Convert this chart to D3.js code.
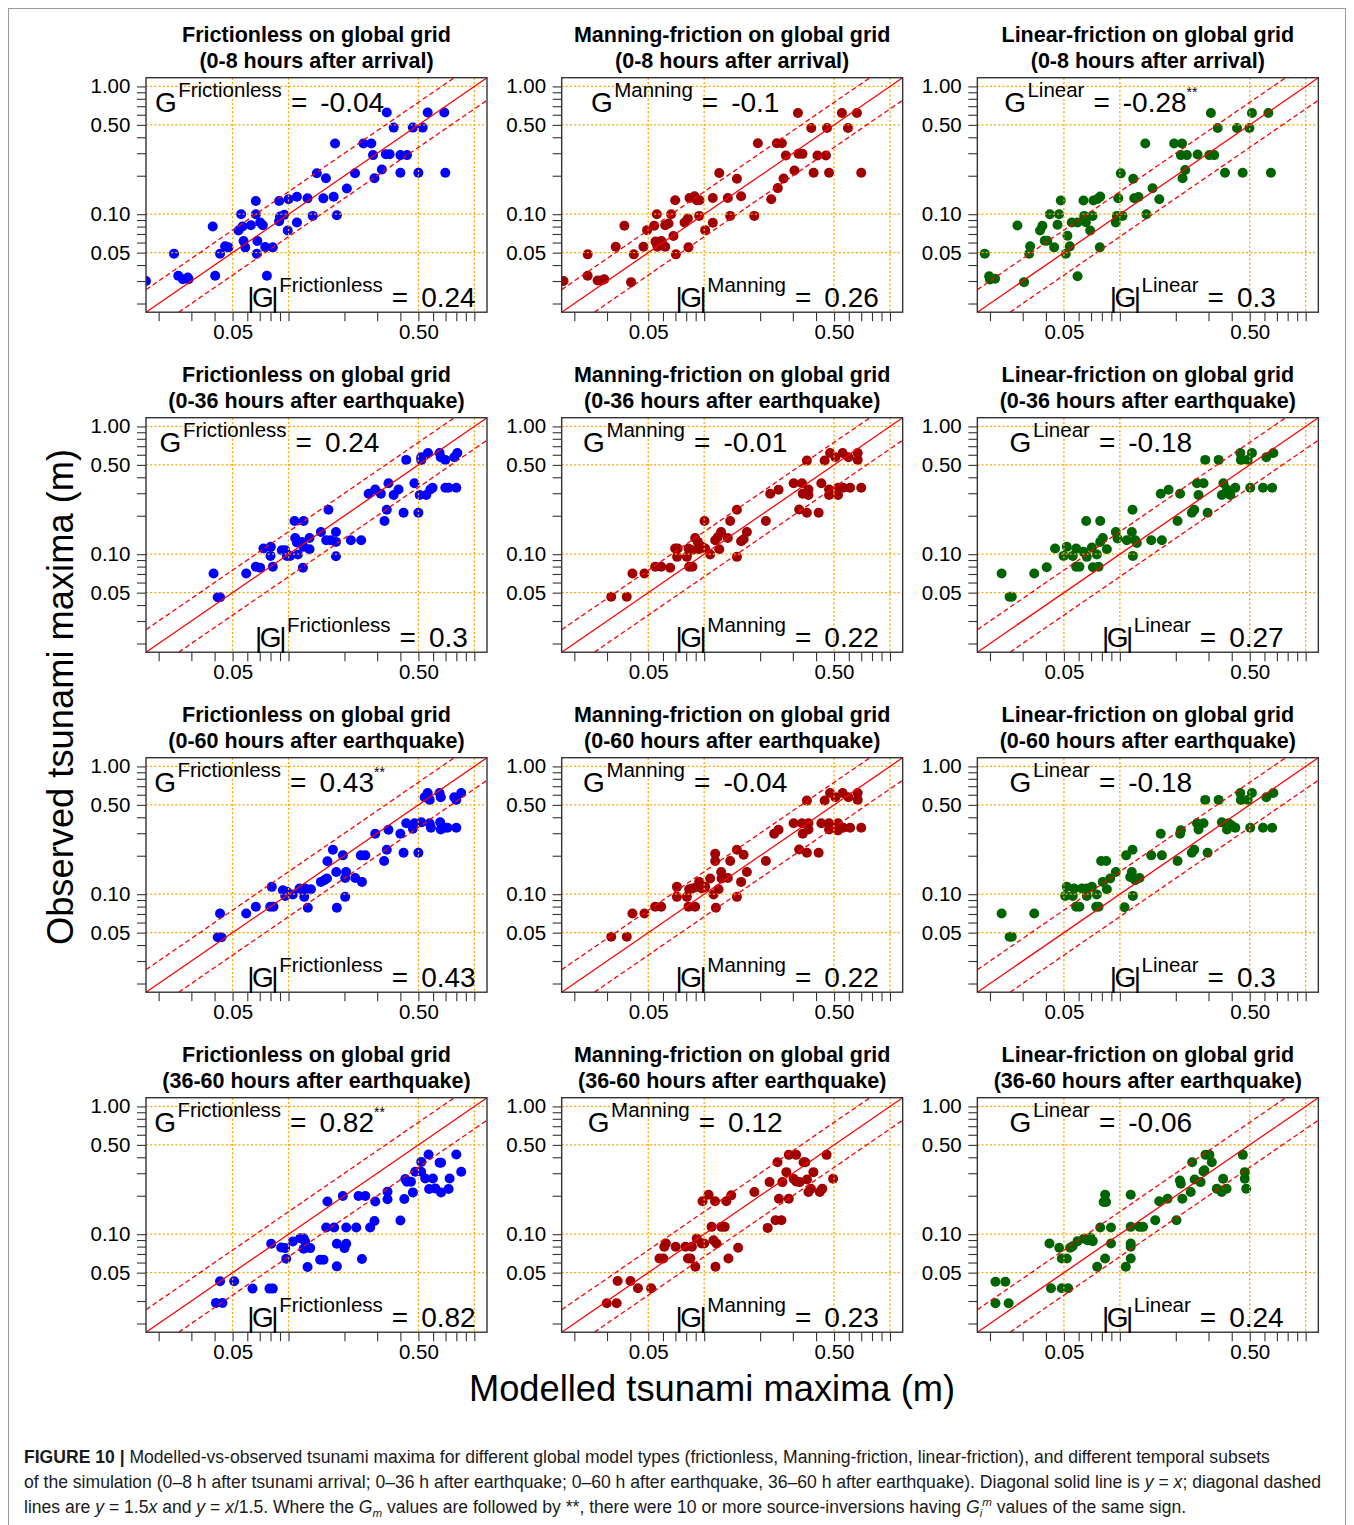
<!DOCTYPE html>
<html>
<head>
<meta charset="utf-8">
<script src="https://cdn.jsdelivr.net/npm/d3@7"></script>
<style>
body { margin: 0; background: #fff; }
svg { display: block; font-family: "Liberation Sans", Arial, Helvetica, sans-serif; }
.ann { white-space: pre; }
</style>
</head>
<body>
<script>
// modelled vs observed maxima (m): [modelled, observed]
var fricArrival = [[0.0171,0.030],[0.0242,0.049],[0.0255,0.033],[0.027,0.031],[0.0287,0.032],[0.029,0.031],[0.0391,0.080],[0.0403,0.033],[0.0428,0.049],[0.0456,0.056],[0.0475,0.055],[0.0538,0.0746],[0.0556,0.100],[0.0565,0.080],[0.0573,0.0616],[0.0585,0.055],[0.0627,0.082],[0.0667,0.127],[0.0667,0.100],[0.0675,0.049],[0.068,0.0616],[0.0704,0.086],[0.0727,0.082],[0.0749,0.0554],[0.0765,0.033],[0.0823,0.055],[0.089,0.127],[0.089,0.088],[0.090,0.096],[0.095,0.099],[0.099,0.0746],[0.100,0.131],[0.111,0.137],[0.111,0.086],[0.1266,0.133],[0.135,0.097],[0.142,0.209],[0.154,0.133],[0.159,0.191],[0.175,0.137],[0.178,0.357],[0.182,0.098],[0.206,0.159],[0.228,0.209],[0.253,0.357],[0.279,0.357],[0.285,0.290],[0.290,0.191],[0.318,0.224],[0.334,0.295],[0.338,0.624],[0.350,0.295],[0.368,0.476],[0.400,0.290],[0.400,0.211],[0.434,0.290],[0.467,0.476],[0.500,0.211],[0.527,0.476],[0.561,0.624],[0.689,0.624],[0.698,0.211]];
var manArrival = [[0.0175,0.030],[0.0236,0.0485],[0.0236,0.033],[0.0267,0.0303],[0.028,0.0303],[0.029,0.031],[0.0334,0.0557],[0.0372,0.0811],[0.0404,0.0294],[0.0418,0.0485],[0.0471,0.0557],[0.0493,0.075],[0.0538,0.0811],[0.0547,0.061],[0.0556,0.100],[0.056,0.0557],[0.0587,0.0616],[0.059,0.061],[0.0617,0.0557],[0.0617,0.082],[0.0643,0.0846],[0.0664,0.100],[0.0683,0.0674],[0.0698,0.1286],[0.0704,0.0485],[0.0784,0.086],[0.0817,0.0925],[0.0823,0.055],[0.0834,0.134],[0.0887,0.138],[0.0913,0.1286],[0.0944,0.1286],[0.094,0.097],[0.1012,0.075],[0.1113,0.134],[0.1113,0.0856],[0.1205,0.210],[0.134,0.134],[0.138,0.097],[0.150,0.1896],[0.158,0.138],[0.186,0.097],[0.1945,0.359],[0.2295,0.131],[0.246,0.359],[0.262,0.359],[0.249,0.160],[0.2674,0.190],[0.275,0.288],[0.306,0.220],[0.3196,0.620],[0.322,0.2966],[0.338,0.2966],[0.377,0.473],[0.388,0.211],[0.407,0.288],[0.452,0.288],[0.458,0.473],[0.470,0.211],[0.551,0.620],[0.594,0.473],[0.664,0.620],[0.700,0.211]];
var linArrival = [[0.01875,0.049],[0.0198,0.0327],[0.020,0.0308],[0.0213,0.0313],[0.0281,0.0816],[0.0305,0.0294],[0.0325,0.049],[0.0329,0.056],[0.0372,0.0746],[0.0383,0.0811],[0.0394,0.062],[0.0407,0.062],[0.042,0.100],[0.0443,0.055],[0.0462,0.0826],[0.0471,0.100],[0.0481,0.1278],[0.0512,0.049],[0.0522,0.0678],[0.0538,0.056],[0.0551,0.086],[0.0592,0.086],[0.0592,0.0327],[0.0637,0.1278],[0.0643,0.097],[0.0656,0.0866],[0.0692,0.0746],[0.0713,0.097],[0.0721,0.1278],[0.0758,0.1317],[0.0784,0.1373],[0.078,0.055],[0.0951,0.086],[0.0963,0.097],[0.098,0.1332],[0.1012,0.2087],[0.1033,0.097],[0.118,0.1897],[0.1195,0.1332],[0.126,0.1365],[0.139,0.100],[0.137,0.357],[0.150,0.1594],[0.163,0.131],[0.196,0.357],[0.216,0.357],[0.213,0.290],[0.2295,0.290],[0.2175,0.191],[0.2249,0.2214],[0.262,0.293],[0.303,0.290],[0.322,0.290],[0.309,0.620],[0.336,0.473],[0.368,0.211],[0.427,0.473],[0.458,0.211],[0.498,0.473],[0.514,0.620],[0.630,0.620],[0.650,0.211]];

var fric36 = [[0.0395,0.0707],[0.0416,0.046],[0.0428,0.046],[0.0592,0.0707],[0.0667,0.0797],[0.0704,0.0783],[0.0733,0.1107],[0.0803,0.1141],[0.080,0.097],[0.0823,0.0797],[0.092,0.1074],[0.096,0.1074],[0.098,0.097],[0.102,0.097],[0.1077,0.182],[0.1086,0.134],[0.1109,0.1233],[0.1123,0.0994],[0.118,0.1248],[0.1205,0.182],[0.1205,0.1141],[0.1195,0.0783],[0.1297,0.134],[0.1297,0.1093],[0.1494,0.1493],[0.1595,0.1286],[0.164,0.2228],[0.1689,0.1286],[0.180,0.1493],[0.180,0.1248],[0.180,0.0964],[0.2166,0.1286],[0.2461,0.1286],[0.270,0.297],[0.2929,0.321],[0.314,0.297],[0.3285,0.182],[0.338,0.2228],[0.345,0.359],[0.368,0.291],[0.391,0.321],[0.416,0.211],[0.430,0.547],[0.476,0.359],[0.500,0.211],[0.508,0.291],[0.518,0.573],[0.518,0.547],[0.551,0.291],[0.563,0.620],[0.580,0.321],[0.596,0.331],[0.650,0.620],[0.660,0.573],[0.698,0.547],[0.698,0.331],[0.727,0.331],[0.780,0.573],[0.800,0.331],[0.810,0.620]];
var man36 = [[0.0316,0.0465],[0.0383,0.0465],[0.0411,0.0707],[0.0477,0.0707],[0.0545,0.0797],[0.0587,0.0797],[0.0656,0.0783],[0.0698,0.1107],[0.072,0.1107],[0.0715,0.0953],[0.0807,0.0953],[0.0823,0.1107],[0.083,0.0797],[0.0864,0.0797],[0.086,0.1074],[0.0894,0.134],[0.0924,0.1248],[0.0935,0.1093],[0.0972,0.1141],[0.1004,0.182],[0.1012,0.1107],[0.1077,0.0994],[0.1146,0.1286],[0.1185,0.1364],[0.1205,0.1093],[0.1234,0.1493],[0.134,0.134],[0.138,0.182],[0.150,0.2228],[0.150,0.0953],[0.158,0.1263],[0.163,0.131],[0.1697,0.1493],[0.2148,0.182],[0.2267,0.297],[0.2513,0.319],[0.303,0.359],[0.3245,0.2238],[0.336,0.359],[0.339,0.297],[0.357,0.540],[0.357,0.211],[0.364,0.321],[0.364,0.291],[0.413,0.211],[0.427,0.359],[0.445,0.540],[0.470,0.321],[0.470,0.291],[0.476,0.620],[0.508,0.573],[0.525,0.331],[0.525,0.291],[0.556,0.620],[0.560,0.331],[0.598,0.573],[0.610,0.331],[0.670,0.620],[0.670,0.547],[0.700,0.331]];
var lin36 = [[0.0231,0.0707],[0.0255,0.0465],[0.0262,0.0465],[0.0346,0.0707],[0.0404,0.079],[0.0448,0.1107],[0.0498,0.097],[0.0518,0.1141],[0.0558,0.097],[0.0582,0.1107],[0.0582,0.0797],[0.0606,0.0797],[0.0637,0.1043],[0.0659,0.182],[0.0664,0.0953],[0.0707,0.1128],[0.0716,0.079],[0.0752,0.0994],[0.0768,0.0797],[0.0784,0.182],[0.0784,0.1248],[0.081,0.134],[0.0851,0.1093],[0.0951,0.1493],[0.0972,0.1325],[0.109,0.1286],[0.116,0.1493],[0.117,0.2228],[0.1175,0.097],[0.121,0.1286],[0.1234,0.1225],[0.1475,0.1286],[0.1683,0.1286],[0.166,0.297],[0.183,0.319],[0.2044,0.182],[0.211,0.297],[0.244,0.211],[0.2513,0.2228],[0.260,0.359],[0.265,0.291],[0.282,0.359],[0.288,0.547],[0.2967,0.211],[0.340,0.547],[0.354,0.291],[0.361,0.359],[0.377,0.321],[0.393,0.291],[0.418,0.331],[0.445,0.620],[0.448,0.547],[0.487,0.547],[0.514,0.620],[0.503,0.331],[0.589,0.331],[0.614,0.573],[0.660,0.331],[0.670,0.620]];

var fric60 = [[0.0428,0.0707],[0.0416,0.046],[0.0436,0.046],[0.0592,0.0707],[0.0667,0.0797],[0.0797,0.0797],[0.083,0.0797],[0.0813,0.1141],[0.0932,0.1074],[0.096,0.097],[0.098,0.1043],[0.1055,0.0994],[0.1146,0.1107],[0.118,0.1093],[0.1215,0.0953],[0.123,0.1107],[0.127,0.0783],[0.132,0.1093],[0.1494,0.1248],[0.1556,0.1286],[0.161,0.1325],[0.162,0.181],[0.1733,0.2228],[0.1807,0.1493],[0.182,0.0783],[0.1961,0.2013],[0.2018,0.134],[0.204,0.1493],[0.2018,0.0953],[0.2285,0.134],[0.245,0.2013],[0.259,0.2013],[0.2484,0.1248],[0.2929,0.297],[0.327,0.182],[0.338,0.2228],[0.345,0.319],[0.400,0.297],[0.416,0.211],[0.430,0.359],[0.467,0.325],[0.477,0.359],[0.500,0.211],[0.518,0.365],[0.540,0.573],[0.561,0.620],[0.575,0.547],[0.575,0.359],[0.584,0.331],[0.650,0.620],[0.655,0.365],[0.660,0.573],[0.660,0.321],[0.689,0.331],[0.717,0.331],[0.780,0.573],[0.800,0.547],[0.800,0.331],[0.850,0.620]];
var man60 = [[0.0316,0.0465],[0.0383,0.0465],[0.0411,0.0707],[0.0477,0.0707],[0.0545,0.0797],[0.0587,0.0797],[0.0713,0.1141],[0.0713,0.0953],[0.0807,0.0953],[0.0823,0.0797],[0.0894,0.0797],[0.083,0.1093],[0.0864,0.1107],[0.0913,0.1141],[0.094,0.1248],[0.0972,0.1107],[0.1012,0.1141],[0.1077,0.1325],[0.1123,0.0994],[0.1146,0.2075],[0.1146,0.182],[0.1156,0.0783],[0.1195,0.1093],[0.1234,0.1493],[0.124,0.1325],[0.134,0.134],[0.138,0.182],[0.150,0.2228],[0.150,0.0953],[0.158,0.1248],[0.163,0.2036],[0.1697,0.1493],[0.2148,0.182],[0.238,0.297],[0.2513,0.319],[0.303,0.359],[0.3245,0.2238],[0.336,0.359],[0.339,0.297],[0.357,0.540],[0.357,0.211],[0.364,0.359],[0.364,0.321],[0.413,0.211],[0.427,0.359],[0.445,0.540],[0.470,0.359],[0.470,0.321],[0.476,0.620],[0.508,0.573],[0.525,0.359],[0.525,0.316],[0.556,0.620],[0.560,0.331],[0.598,0.573],[0.610,0.331],[0.670,0.620],[0.670,0.547],[0.700,0.331]];
var lin60 = [[0.0231,0.0707],[0.0255,0.0465],[0.0262,0.0465],[0.0346,0.0707],[0.0518,0.1141],[0.0508,0.097],[0.0558,0.097],[0.0568,0.1107],[0.0582,0.0797],[0.0606,0.0797],[0.0624,0.1107],[0.0664,0.097],[0.0664,0.1107],[0.0707,0.1141],[0.0746,0.0797],[0.0752,0.0994],[0.0768,0.0797],[0.0793,0.182],[0.0844,0.182],[0.081,0.1248],[0.0851,0.1093],[0.0887,0.1325],[0.0951,0.1493],[0.1059,0.079],[0.1081,0.2013],[0.117,0.2228],[0.116,0.1493],[0.1137,0.1364],[0.1175,0.097],[0.121,0.1286],[0.1276,0.134],[0.1475,0.2013],[0.166,0.297],[0.1683,0.2013],[0.2044,0.182],[0.211,0.297],[0.213,0.316],[0.244,0.211],[0.2513,0.2228],[0.260,0.359],[0.265,0.321],[0.282,0.359],[0.288,0.547],[0.2967,0.211],[0.340,0.547],[0.354,0.365],[0.377,0.321],[0.385,0.359],[0.400,0.345],[0.418,0.331],[0.445,0.620],[0.448,0.547],[0.487,0.547],[0.514,0.620],[0.503,0.331],[0.589,0.331],[0.614,0.573],[0.660,0.331],[0.670,0.620]];

var fricLate = [[0.0407,0.029],[0.0441,0.029],[0.0428,0.0428],[0.051,0.0428],[0.064,0.0375],[0.079,0.0375],[0.0823,0.0375],[0.0807,0.0841],[0.0913,0.0787],[0.096,0.0778],[0.0972,0.0643],[0.1055,0.0877],[0.1156,0.093],[0.1205,0.093],[0.1229,0.0877],[0.1205,0.0769],[0.1308,0.0778],[0.1266,0.0553],[0.148,0.063],[0.1543,0.063],[0.162,0.180],[0.1595,0.1127],[0.176,0.1127],[0.182,0.0841],[0.182,0.056],[0.196,0.199],[0.200,0.0778],[0.2044,0.0841],[0.2044,0.1127],[0.2315,0.1127],[0.238,0.199],[0.259,0.199],[0.2484,0.0639],[0.275,0.1127],[0.290,0.127],[0.2929,0.180],[0.341,0.215],[0.341,0.1874],[0.400,0.1278],[0.420,0.1885],[0.425,0.270],[0.434,0.257],[0.467,0.2124],[0.456,0.257],[0.481,0.3077],[0.517,0.3077],[0.518,0.368],[0.544,0.2729],[0.567,0.420],[0.571,0.2256],[0.598,0.2729],[0.616,0.2283],[0.650,0.363],[0.662,0.363],[0.662,0.2124],[0.727,0.2256],[0.736,0.2729],[0.800,0.420],[0.850,0.3077]];
var manLate = [[0.0299,0.0288],[0.0338,0.0288],[0.0342,0.043],[0.0401,0.043],[0.044,0.0377],[0.0518,0.0377],[0.0574,0.0646],[0.0603,0.0646],[0.061,0.0797],[0.0622,0.0846],[0.0702,0.0797],[0.0793,0.0797],[0.0818,0.0646],[0.0843,0.0646],[0.0859,0.0797],[0.0896,0.0557],[0.0912,0.0925],[0.097,0.0846],[0.098,0.1808],[0.100,0.0846],[0.1056,0.2037],[0.1096,0.1141],[0.1122,0.0898],[0.1144,0.1808],[0.1165,0.0846],[0.115,0.0557],[0.1238,0.1141],[0.129,0.1141],[0.1316,0.1808],[0.135,0.0646],[0.1398,0.2013],[0.1523,0.0783],[0.1862,0.2137],[0.2196,0.112],[0.2249,0.2557],[0.242,0.1286],[0.2526,0.1896],[0.2604,0.1286],[0.248,0.366],[0.2636,0.2557],[0.2768,0.306],[0.2854,0.1896],[0.2854,0.4176],[0.303,0.2715],[0.3126,0.4176],[0.3126,0.2588],[0.3264,0.2557],[0.3426,0.366],[0.350,0.366],[0.3576,0.2683],[0.364,0.2137],[0.3754,0.227],[0.387,0.306],[0.419,0.2137],[0.432,0.227],[0.456,0.4176],[0.494,0.2715]];
var linLate = [[0.0214,0.0425],[0.0242,0.0425],[0.0214,0.0288],[0.0252,0.0288],[0.0426,0.0377],[0.0487,0.0377],[0.0527,0.0377],[0.0418,0.0846],[0.0472,0.0783],[0.0487,0.0646],[0.0518,0.0646],[0.054,0.0783],[0.0557,0.0806],[0.0592,0.0882],[0.0641,0.0925],[0.0669,0.0898],[0.0694,0.0942],[0.0715,0.0882],[0.0755,0.0557],[0.0784,0.1127],[0.0818,0.1786],[0.0833,0.2037],[0.0843,0.1786],[0.0833,0.0646],[0.0896,0.0846],[0.0896,0.1127],[0.1076,0.0557],[0.1144,0.2037],[0.1144,0.1141],[0.1144,0.0846],[0.1144,0.0797],[0.1144,0.0646],[0.1276,0.1141],[0.1332,0.1141],[0.155,0.1286],[0.1629,0.1808],[0.1806,0.1896],[0.2017,0.1286],[0.2104,0.2635],[0.2128,0.248],[0.2169,0.1896],[0.2406,0.2137],[0.245,0.366],[0.2526,0.2683],[0.2718,0.2557],[0.2818,0.310],[0.289,0.4176],[0.3033,0.4176],[0.3126,0.366],[0.285,0.316],[0.3324,0.227],[0.3532,0.2137],[0.3597,0.2715],[0.3754,0.227],[0.459,0.4176],[0.4704,0.2715],[0.4704,0.306],[0.479,0.227]];

var modelNames = ["Frictionless", "Manning", "Linear"];
var modelTitles = ["Frictionless on global grid", "Manning-friction on global grid", "Linear-friction on global grid"];
var periods = ["(0-8 hours after arrival)", "(0-36 hours after earthquake)", "(0-60 hours after earthquake)", "(36-60 hours after earthquake)"];
var gValues = [["-0.04", "-0.1", "-0.28"], ["0.24", "-0.01", "-0.18"], ["0.43", "-0.04", "-0.18"], ["0.82", "0.12", "-0.06"]];
var gStars = [[false, false, true], [false, false, false], [true, false, false], [true, false, false]];
var absGValues = [["0.24", "0.26", "0.3"], ["0.3", "0.22", "0.27"], ["0.43", "0.22", "0.3"], ["0.82", "0.23", "0.24"]];
var panelData = [[fricArrival, manArrival, linArrival], [fric36, man36, lin36], [fric60, man60, lin60], [fricLate, manLate, linLate]];
var dotColors = ["#0000ff", "#a00000", "#006400"];

var tickVals = [0.02, 0.03, 0.04, 0.05, 0.06, 0.07, 0.08, 0.09, 0.1, 0.2, 0.3, 0.4, 0.5, 0.6, 0.7, 0.8, 0.9, 1];
var yLabelled = [0.05, 0.1, 0.5, 1];
var xLabelled = [0.05, 0.5];
var gridVals = [0.05, 0.1, 0.5, 1];
var slopes = [1.5, 1 / 1.5];

var W = 1354, H = 1525;
var pw = 341, ph = 234.5;
var lo = 0.0171, hi = 1.17;

var svg = d3.select("body").append("svg").attr("width", W).attr("height", H);
svg.append("rect").attr("width", W).attr("height", H).attr("fill", "#fff");
svg.append("rect").attr("x", 8.5).attr("y", 8.5).attr("width", 1337).attr("height", 1540)
  .attr("fill", "none").attr("stroke", "#9a9a9a").attr("stroke-width", 1);

var x = d3.scaleLog().domain([lo, hi]).range([0, pw]);
var y = d3.scaleLog().domain([lo, hi]).range([ph, 0]);

var fmt = d3.format(".2f");

panelData.forEach(function(row, r) {
  row.forEach(function(pts, c) {
    var left = 146 + c * 415.67, top = 77.7 + r * 340;
    var g = svg.append("g").attr("transform", "translate(" + left + "," + top + ")");
    var cid = "clip" + r + "_" + c;
    g.append("clipPath").attr("id", cid).append("rect").attr("width", pw).attr("height", ph);

    // titles
    g.append("text").attr("x", pw / 2).attr("y", -36).attr("text-anchor", "middle")
      .attr("font-size", 21.5).attr("font-weight", "bold").text(modelTitles[c]);
    g.append("text").attr("x", pw / 2).attr("y", -9.4).attr("text-anchor", "middle")
      .attr("font-size", 21.5).attr("font-weight", "bold").text(periods[r]);

    // points
    g.append("g").attr("clip-path", "url(#" + cid + ")").selectAll("circle").data(pts).enter()
      .append("circle")
      .attr("cx", function(d) { return x(d[0]); })
      .attr("cy", function(d) { return y(d[1]); })
      .attr("r", 5).attr("fill", dotColors[c]);

    // grid
    var grid = g.append("g").attr("stroke", "#ffa500").attr("stroke-width", 1.3).attr("stroke-dasharray", "2,2.2");
    gridVals.forEach(function(v) {
      grid.append("line").attr("x1", x(v)).attr("x2", x(v)).attr("y1", 0).attr("y2", ph);
      grid.append("line").attr("x1", 0).attr("x2", pw).attr("y1", y(v)).attr("y2", y(v));
    });

    // 1:1 and 1.5 lines
    var lines = g.append("g").attr("clip-path", "url(#" + cid + ")").attr("stroke", "#ff0000").attr("stroke-width", 1.3);
    lines.append("line").attr("x1", x(lo)).attr("y1", y(lo)).attr("x2", x(hi)).attr("y2", y(hi));
    slopes.forEach(function(k) {
      var a = Math.max(lo, lo / k), b = Math.min(hi, hi / k);
      lines.append("line").attr("x1", x(a)).attr("y1", y(a * k)).attr("x2", x(b)).attr("y2", y(b * k))
        .attr("stroke-dasharray", "5,3");
    });

    g.append("rect").attr("width", pw).attr("height", ph).attr("fill", "none")
      .attr("stroke", "#333").attr("stroke-width", 1.4);

    // axes
    var ya = g.append("g").call(d3.axisLeft(y).tickValues(tickVals).tickSize(9).tickPadding(6.6)
      .tickFormat(function(d) { return yLabelled.indexOf(d) >= 0 ? fmt(d) : ""; }));
    var xa = g.append("g").attr("transform", "translate(0," + ph + ")")
      .call(d3.axisBottom(x).tickValues(tickVals).tickSize(9).tickPadding(3.7)
      .tickFormat(function(d) { return xLabelled.indexOf(d) >= 0 ? fmt(d) : ""; }));
    [ya, xa].forEach(function(a) {
      a.select(".domain").remove();
      a.selectAll("line").attr("stroke", "#333").attr("stroke-width", 1.1);
      a.selectAll("text").attr("font-size", 20.5).attr("fill", "#000")
        .attr("font-family", "'Liberation Sans', Arial, sans-serif");
    });

    // G annotation
    var t1 = g.append("text").attr("class", "ann").attr("x", pw / 2 - 47).attr("y", 34)
      .attr("text-anchor", "middle").attr("font-size", 28);
    t1.append("tspan").text("G");
    t1.append("tspan").attr("font-size", 20.5).attr("dx", 1.5).attr("dy", -14.4).text(modelNames[c]);
    t1.append("tspan").attr("dx", 9).attr("dy", 14.4).text("=");
    t1.append("tspan").attr("dx", 13).text(gValues[r][c]);
    if (gStars[r][c]) t1.append("tspan").attr("font-size", 14).attr("dy", -14.4).text("**");

    var t2 = g.append("text").attr("class", "ann").attr("x", pw / 2 + 45).attr("y", 229)
      .attr("text-anchor", "middle").attr("font-size", 28);
    t2.append("tspan").attr("letter-spacing", -2.5).text("|G|");
    t2.append("tspan").attr("font-size", 20.5).attr("dx", 3).attr("dy", -15).text(modelNames[c]);
    t2.append("tspan").attr("dx", 9).attr("dy", 15).text("=");
    t2.append("tspan").attr("dx", 13).text(absGValues[r][c]);
  });
});

// axis titles
svg.append("text").attr("transform", "translate(73,697) rotate(-90)").attr("text-anchor", "middle")
  .attr("font-size", 36.3).text("Observed tsunami maxima (m)");
svg.append("text").attr("x", 712).attr("y", 1401).attr("text-anchor", "middle")
  .attr("font-size", 36.3).text("Modelled tsunami maxima (m)");

// caption: [text, style]
var capLines = [
  [["FIGURE 10 | ", "b"], ["Modelled-vs-observed tsunami maxima for different global model types (frictionless, Manning-friction, linear-friction), and different temporal subsets", ""]],
  [["of the simulation (0\u20138 h after tsunami arrival; 0\u201336 h after earthquake; 0\u201360 h after earthquake, 36\u201360 h after earthquake). Diagonal solid line is ", ""], ["y", "i"], [" = ", ""], ["x", "i"], ["; diagonal dashed", ""]],
  [["lines are ", ""], ["y", "i"], [" = 1.5", ""], ["x", "i"], [" and ", ""], ["y", "i"], [" = ", ""], ["x", "i"], ["/1.5. Where the ", ""], ["G", "i"], ["m", "sub"], [" values are followed by **, there were 10 or more source-inversions having ", ""], ["G", "i"], ["i", "sub"], ["m", "sup"], [" values of the same sign.", ""]]
];
var cap = svg.append("g").attr("fill", "#1a1a1a");
var capNodes = capLines.map(function(parts, i) {
  var t = cap.append("text").attr("class", "ann").attr("x", 24).attr("y", 1463 + i * 25).attr("font-size", 17);
  var cur = 0;
  parts.forEach(function(p) {
    var s = t.append("tspan").text(p[0]);
    var shift = 0;
    if (p[1] === "b") s.attr("font-weight", "bold");
    if (p[1] === "i") s.attr("font-style", "italic");
    if (p[1] === "sub") { shift = 4; s.attr("font-style", "italic").attr("font-size", "0.66em"); }
    if (p[1] === "sup") { shift = -7; s.attr("font-style", "italic").attr("font-size", "0.66em"); }
    if (shift !== cur) { s.attr("dy", shift - cur); cur = shift; }
  });
  return t;
});
// fit caption width to the printed line length
var w2 = capNodes[1].node().getComputedTextLength();
var fs = 17 * 1298 / w2;
capNodes.forEach(function(t) { t.attr("font-size", fs); });
</script>
</body>
</html>
